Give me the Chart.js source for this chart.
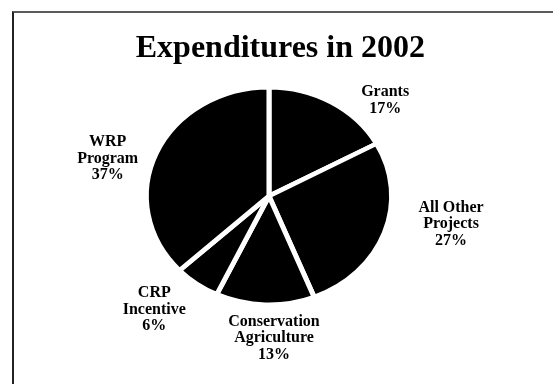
<!DOCTYPE html>
<html>
<head>
<meta charset="utf-8">
<script src="https://cdn.jsdelivr.net/npm/chart.js@4.4.1/dist/chart.umd.min.js"></script>
<style>
  html, body { margin: 0; padding: 0; background: #fff; overflow: hidden; }
  #wrap { position: relative; width: 553px; height: 384px; }
  #frame {
    position: absolute; left: 12px; top: 11px; width: 600px; height: 400px;
    border-top: 2px solid #5a5a5a; border-left: 2px solid #222;
  }
  canvas { position: absolute; left: 0; top: 0; }
</style>
</head>
<body>
<div id="wrap">
  <div id="frame"></div>
  <canvas id="pieChart" width="553" height="384"></canvas>
</div>
<script>
// 2002 지출 파이 차트
const categories = [['Grants'], ['All Other', 'Projects'], ['Conservation', 'Agriculture'], ['CRP', 'Incentive'], ['WRP', 'Program']];
const shares = [17, 27, 13, 6, 37];

// 원본 그림이 가로로 살짝 늘어난 타원이라 파이만 가로로 늘림
const stretchPlugin = {
  id: 'stretch',
  beforeDatasetsDraw(chart, args, opts) {
    const arc = chart.getDatasetMeta(0).data[0];
    const ctx = chart.ctx;
    ctx.save();
    ctx.translate(arc.x, 0);
    ctx.scale(opts.scaleX, 1);
    ctx.translate(-arc.x, 0);
  },
  afterDatasetsDraw(chart) {
    chart.ctx.restore();
  }
};

// 조각 바깥 라벨 (이름 + 퍼센트)
const outerLabels = {
  id: 'outerLabels',
  afterDraw(chart, args, opts) {
    const ctx = chart.ctx;
    const sx = chart.options.plugins.stretch.scaleX;
    ctx.save();
    ctx.font = opts.font;
    ctx.fillStyle = '#000';
    ctx.textAlign = 'center';
    ctx.textBaseline = 'middle';
    chart.getDatasetMeta(0).data.forEach((arc, i) => {
      const p = arc.getProps(['x', 'y', 'startAngle', 'endAngle', 'outerRadius'], true);
      const mid = (p.startAngle + p.endAngle) / 2;
      const r = p.outerRadius * opts.distance;
      const nudge = opts.nudge[i];
      const x = p.x + Math.cos(mid) * r * sx + nudge[0];
      const y = p.y + Math.sin(mid) * r + nudge[1];
      const lines = categories[i].concat([shares[i] + '%']);
      const top = y - (lines.length - 1) * opts.lineHeight / 2;
      lines.forEach((t, j) => ctx.fillText(t, x, top + j * opts.lineHeight));
    });
    ctx.restore();
  }
};

const ctx = document.getElementById('pieChart').getContext('2d');
const pieChart = new Chart(ctx, {
  type: 'pie',
  data: {
    labels: categories.map(c => c.join(' ')),
    datasets: [{
      data: shares,
      backgroundColor: '#000',
      borderColor: '#fff',
      borderWidth: 4.5,
      hoverOffset: 0
    }]
  },
  options: {
    responsive: false,
    animation: false,
    events: [],
    layout: {
      padding: { top: 0, bottom: 77, left: 113, right: 128 }
    },
    plugins: {
      legend: { display: false },
      tooltip: { enabled: false },
      title: {
        display: true,
        text: 'Expenditures in 2002',
        align: 'end',
        color: '#000',
        font: { family: '"Liberation Serif", "Times New Roman", serif', size: 32, weight: 'bold', lineHeight: 1.2 },
        padding: { top: 30, bottom: 16.6 }
      },
      stretch: { scaleX: 1.128 },
      outerLabels: {
        font: 'bold 16px "Liberation Serif", "Times New Roman", serif',
        lineHeight: 16.5,
        distance: 1.3,
        nudge: [[35, 26], [32, -20], [10, 1], [-21, -1], [-15, 19]]
      }
    }
  },
  plugins: [stretchPlugin, outerLabels]
});
</script>
</body>
</html>
